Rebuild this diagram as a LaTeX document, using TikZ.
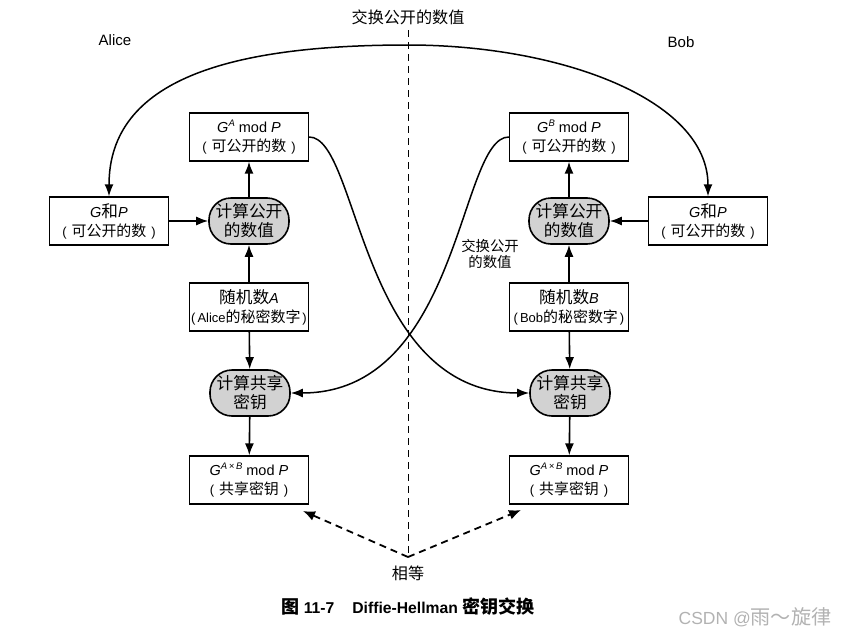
\documentclass[tikz,border=0pt]{standalone}
\usepackage{fontspec}
\setmainfont{Liberation Sans}
\newfontfamily\cjk{Noto Sans CJK SC}[Scale=1.15]
\usetikzlibrary{arrows.meta,calc}
\newcommand\zh[1]{{\cjk #1}}
\newcommand\sups[1]{\raisebox{5.5pt}{\fontsize{9.5}{9.5}\selectfont\itshape #1}}
\newcommand\smallline{\fontsize{13}{19}\selectfont}
\tikzset{
  box/.style={draw, line width=1.3pt, minimum width=119pt, minimum height=48pt, align=center, inner sep=1pt, font=\fontsize{14.5}{19}\selectfont},
  pill/.style={draw, rectangle, rounded corners=22pt, fill=gray!35, line width=1.6pt, minimum width=80pt, minimum height=46pt, inner sep=0pt, align=center, font=\fontsize{14.5}{19}\selectfont\cjk},
  arr/.style={line width=1.6pt, -{Latex[length=12pt,width=9pt]}},
  carr/.style={line width=1.5pt},
  darr/.style={line width=1.8pt, dash pattern=on 7pt off 5pt, -{Latex[length=12pt,width=10pt]}},
  lbl/.style={font=\fontsize{14}{18}\selectfont, align=center, inner sep=0pt},
}
\begin{document}
\begin{tikzpicture}[x=1pt,y=-1pt]
\useasboundingbox (0,0) rectangle (844,635);
% side labels
\node[lbl, font=\fontsize{15}{18}\selectfont] (alice) at (115,40) {Alice};
\node[lbl, font=\fontsize{15}{18}\selectfont] (bob) at (681,42) {Bob};
\node[lbl] (top) at (408,17) {\zh{交换公开的数值}};
% dashed divider
\coordinate (dtop) at (408,30);
\coordinate (dbot) at (408,555);
\draw[line width=1pt, dash pattern=on 7pt off 5pt] (dtop) -- (dbot);
% nodes
\node[box] (gpL) at (109,221) {\textit{G}\zh{和}\textit{P}\\{\smallline(\hspace{5pt}\zh{可公开的数}\hspace{5pt})}};
\node[box] (gpR) at (708,221) {\textit{G}\zh{和}\textit{P}\\{\smallline(\hspace{5pt}\zh{可公开的数}\hspace{5pt})}};
\node[box] (gA) at (249,137) {\textit{G}\sups{A} mod \textit{P}\\{\smallline(\hspace{5pt}\zh{可公开的数}\hspace{5pt})}};
\node[box] (gB) at (569,137) {\textit{G}\sups{B} mod \textit{P}\\{\smallline(\hspace{5pt}\zh{可公开的数}\hspace{5pt})}};
\node[pill] (pA) at (249,221) {计算公开\\的数值};
\node[pill] (pB) at (569,221) {计算公开\\的数值};
\node[box] (rA) at (249,307) {\zh{随机数}\textit{A}\\{\smallline(\hspace{2pt}Alice\zh{的秘密数字}\hspace{2pt})}};
\node[box] (rB) at (569,307) {\zh{随机数}\textit{B}\\{\smallline(\hspace{2pt}Bob\zh{的秘密数字}\hspace{2pt})}};
\node[pill] (sA) at (250,393) {计算共享\\密钥};
\node[pill] (sB) at (570,393) {计算共享\\密钥};
\node[box] (kA) at (249,480) {\textit{G}\sups{A\,\texttimes\,B} mod \textit{P}\\{\smallline(\hspace{5pt}\zh{共享密钥}\hspace{5pt})}};
\node[box] (kB) at (569,480) {\textit{G}\sups{A\,\texttimes\,B} mod \textit{P}\\{\smallline(\hspace{5pt}\zh{共享密钥}\hspace{5pt})}};
% straight arrows
\draw[arr] (gpL) -- (pA);
\draw[arr] (gpR) -- (pB);
\draw[arr] (pA) -- (gA);
\draw[arr] (pB) -- (gB);
\draw[arr] (rA) -- (pA);
\draw[arr] (rB) -- (pB);
\draw[arr] (rA) -- (sA);
\draw[arr] (rB) -- (sB);
\draw[arr] (sA) -- (kA);
\draw[arr] (sB) -- (kB);
% top arc
\coordinate (apex) at (408,45);
\draw[carr, {Latex[length=12pt,width=9pt]}-{Latex[length=12pt,width=9pt]}] (gpL.north) .. controls +(0,-117) and +(-178,0) .. (apex) .. controls +(152,0) and +(0,-97) .. (gpR.north);
% crossing curves
\draw[carr, -{Latex[length=12pt,width=9pt]}] (gA.east) .. controls +(50,0) and +(-170,0) .. (sB.west);
\draw[carr, -{Latex[length=12pt,width=9pt]}] (gB.west) .. controls +(-50,0) and +(170,0) .. (sA.east);
\node[lbl, font=\fontsize{12.5}{16}\selectfont] (xl) at (490,254) {\zh{交换公开}\\\zh{的数值}};
% equal
\coordinate (eq) at (408,557);
\coordinate (eqL) at (303,511);
\coordinate (eqR) at (521,510);
\draw[darr] (eq) -- (eqL);
\draw[darr] (eq) -- (eqR);
\node[lbl] (eqt) at (408,573) {\zh{相等}};
% caption
\node[inner sep=0pt, font=\fontsize{15.7}{18}\selectfont\bfseries] (cap) at (408,607) {\zh{图} 11-7\hspace{18pt}Diffie-Hellman \zh{密钥交换}};
\node[inner sep=0pt, text=gray!60, font=\fontsize{17.5}{20}\selectfont] (wm) at (755,617) {CSDN @\zh{雨～旋律}};
\end{tikzpicture}
\end{document}
